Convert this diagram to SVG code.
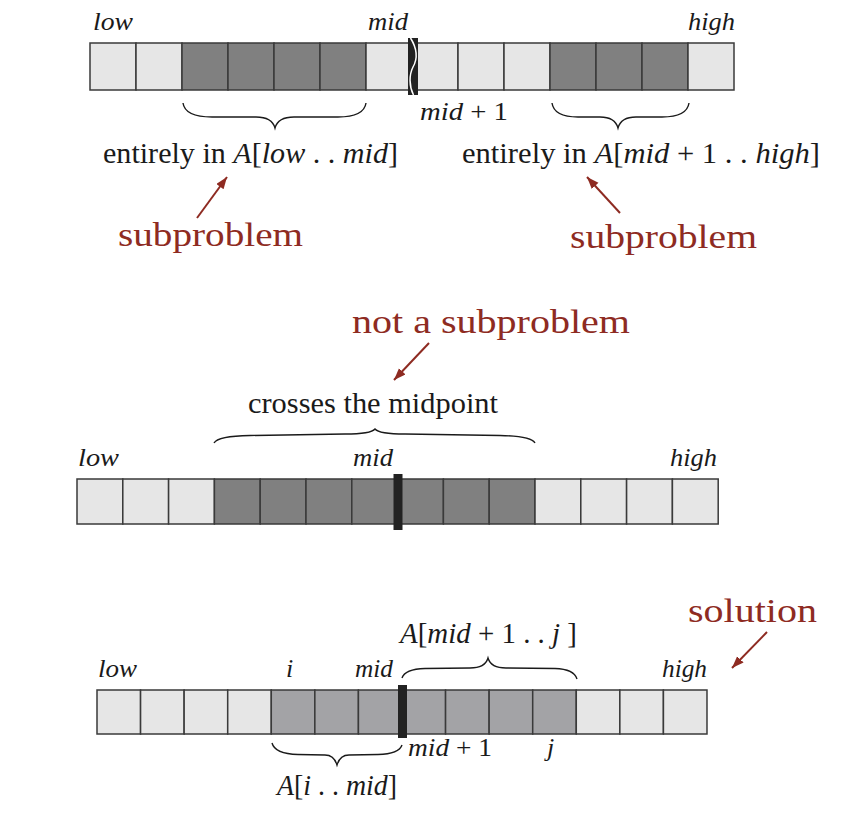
<svg xmlns="http://www.w3.org/2000/svg" width="863" height="816" viewBox="0 0 863 816">
<style>
.c{stroke:#3a3a3a;stroke-width:1.5}
.lt{fill:#e6e6e6}
.dk{fill:#808080}
.md{fill:#a3a3a6}
.t{font-family:"Liberation Serif","Times New Roman",serif;fill:#1a1a1a}
.it{font-style:italic}
.lab{font-size:26px}
.txt{font-size:29px}
.red{font-family:"Liberation Serif","Times New Roman",serif;fill:#8e2b22;font-size:34px}
.brace{fill:none;stroke:#1a1a1a;stroke-width:1.4}
.arr{stroke:#8e2b22;stroke-width:2;fill:none;marker-end:url(#ah)}
.div{fill:#222}
</style>
<defs>
<marker id="ah" markerUnits="userSpaceOnUse" markerWidth="14" markerHeight="10" refX="12" refY="4.5" orient="auto">
<path d="M0,0 L12,4.5 L0,9 z" fill="#8e2b22"/>
</marker>
</defs>

<g id="array1">
<rect class="c lt" x="90" y="43" width="46" height="47"/>
<rect class="c lt" x="136" y="43" width="46" height="47"/>
<rect class="c dk" x="182" y="43" width="46" height="47"/>
<rect class="c dk" x="228" y="43" width="46" height="47"/>
<rect class="c dk" x="274" y="43" width="46" height="47"/>
<rect class="c dk" x="320" y="43" width="46" height="47"/>
<rect class="c lt" x="366" y="43" width="46" height="47"/>
<rect class="c lt" x="412" y="43" width="46" height="47"/>
<rect class="c lt" x="458" y="43" width="46" height="47"/>
<rect class="c lt" x="504" y="43" width="46" height="47"/>
<rect class="c dk" x="550" y="43" width="46" height="47"/>
<rect class="c dk" x="596" y="43" width="46" height="47"/>
<rect class="c dk" x="642" y="43" width="46" height="47"/>
<rect class="c lt" x="688" y="43" width="46" height="47"/>
<rect class="div" x="408" y="38" width="10" height="57"/>
<path d="M410.5,38 C418,50 417,60 413,67 C409,75 409,86 413.5,95" fill="none" stroke="#fff" stroke-width="1.5"/>
<text class="t it lab" x="93" y="30" textLength="40" lengthAdjust="spacingAndGlyphs">low</text>
<text class="t it lab" x="368" y="30" textLength="40" lengthAdjust="spacingAndGlyphs">mid</text>
<text class="t it lab" x="688" y="30" textLength="47" lengthAdjust="spacingAndGlyphs">high</text>
<text class="t lab" x="420" y="120" textLength="88" lengthAdjust="spacingAndGlyphs"><tspan class="it">mid</tspan> + 1</text>
</g>

<g id="left-sub">
<path class="brace" d="M183,103 Q185,117 212,117 L256,117 Q272,117 275,128 Q278,117 294,117 L338,117 Q364,117 366,103"/>
<text class="t txt" x="103" y="163" textLength="295" lengthAdjust="spacingAndGlyphs">entirely in <tspan class="it">A</tspan>[<tspan class="it">low</tspan> . . <tspan class="it">mid</tspan>]</text>
<text class="red" x="118" y="246" textLength="185" lengthAdjust="spacingAndGlyphs">subproblem</text>
</g>

<g id="right-sub">
<path class="brace" d="M552,103 Q554,117 578,117 L600,117 Q615,117 618,128 Q621,117 636,117 L662,117 Q687,117 689,103"/>
<text class="t txt" x="462" y="163" textLength="358" lengthAdjust="spacingAndGlyphs">entirely in <tspan class="it">A</tspan>[<tspan class="it">mid</tspan> + 1 . . <tspan class="it">high</tspan>]</text>
<text class="red" x="570" y="248" textLength="187" lengthAdjust="spacingAndGlyphs">subproblem</text>
</g>

<g id="array2">
<rect class="c lt" x="77" y="479" width="45.8" height="45"/>
<rect class="c lt" x="122.8" y="479" width="45.8" height="45"/>
<rect class="c lt" x="168.6" y="479" width="45.8" height="45"/>
<rect class="c dk" x="214.4" y="479" width="45.8" height="45"/>
<rect class="c dk" x="260.2" y="479" width="45.8" height="45"/>
<rect class="c dk" x="306" y="479" width="45.8" height="45"/>
<rect class="c dk" x="351.8" y="479" width="45.8" height="45"/>
<rect class="c dk" x="397.6" y="479" width="45.8" height="45"/>
<rect class="c dk" x="443.4" y="479" width="45.8" height="45"/>
<rect class="c dk" x="489.2" y="479" width="45.8" height="45"/>
<rect class="c lt" x="535" y="479" width="45.8" height="45"/>
<rect class="c lt" x="580.8" y="479" width="45.8" height="45"/>
<rect class="c lt" x="626.6" y="479" width="45.8" height="45"/>
<rect class="c lt" x="672.4" y="479" width="45.8" height="45"/>
<rect class="div" x="393.5" y="474" width="9" height="56"/>
<text class="t it lab" x="78" y="466" textLength="41" lengthAdjust="spacingAndGlyphs">low</text>
<text class="t it lab" x="353" y="466" textLength="40" lengthAdjust="spacingAndGlyphs">mid</text>
<text class="t it lab" x="670" y="466" textLength="47" lengthAdjust="spacingAndGlyphs">high</text>
</g>

<g id="cross">
<path class="brace" d="M214,443 Q218,436 250,435.5 L345,434 Q371,434 375,429 Q379,434 405,434 L500,435.5 Q531,436 535,443"/>
<text class="t txt" x="248" y="413" textLength="250" lengthAdjust="spacingAndGlyphs">crosses the midpoint</text>
<text class="red" x="352" y="333" textLength="278" lengthAdjust="spacingAndGlyphs">not a subproblem</text>
</g>

<g id="array3">
<rect class="c lt" x="97" y="690" width="43.57" height="44"/>
<rect class="c lt" x="140.57" y="690" width="43.57" height="44"/>
<rect class="c lt" x="184.14" y="690" width="43.57" height="44"/>
<rect class="c lt" x="227.71" y="690" width="43.57" height="44"/>
<rect class="c md" x="271.28" y="690" width="43.57" height="44"/>
<rect class="c md" x="314.85" y="690" width="43.57" height="44"/>
<rect class="c md" x="358.42" y="690" width="43.57" height="44"/>
<rect class="c md" x="402" y="690" width="43.57" height="44"/>
<rect class="c md" x="445.57" y="690" width="43.57" height="44"/>
<rect class="c md" x="489.14" y="690" width="43.57" height="44"/>
<rect class="c md" x="532.71" y="690" width="43.57" height="44"/>
<rect class="c lt" x="576.28" y="690" width="43.57" height="44"/>
<rect class="c lt" x="619.85" y="690" width="43.57" height="44"/>
<rect class="c lt" x="663.42" y="690" width="43.57" height="44"/>
<rect class="div" x="398" y="685" width="9" height="53"/>
<text class="t it lab" x="98" y="677" textLength="39" lengthAdjust="spacingAndGlyphs">low</text>
<text class="t it lab" x="286" y="677">i</text>
<text class="t it lab" x="355" y="677" textLength="38" lengthAdjust="spacingAndGlyphs">mid</text>
<text class="t it lab" x="662" y="677" textLength="45" lengthAdjust="spacingAndGlyphs">high</text>
<text class="t lab" x="408" y="756" textLength="84" lengthAdjust="spacingAndGlyphs"><tspan class="it">mid</tspan> + 1</text>
<text class="t it lab" x="547" y="756">j</text>
</g>

<g id="solution">
<path class="brace" d="M402,678 Q405,669 425,668.5 L470,668 Q485,668 488,658 Q491,668 506,668 L555,668.5 Q574,669 577,679"/>
<path class="brace" d="M272,743 Q275,754 298,754.5 L325,755 Q334,755 337,765 Q340,755 349,755 L378,754.5 Q399,754 402,745"/>
<text class="t txt" x="400" y="643" textLength="177" lengthAdjust="spacingAndGlyphs"><tspan class="it">A</tspan>[<tspan class="it">mid</tspan> + 1 . . <tspan class="it">j</tspan> ]</text>
<text class="t txt" x="277" y="795" textLength="120" lengthAdjust="spacingAndGlyphs"><tspan class="it">A</tspan>[<tspan class="it">i</tspan> . . <tspan class="it">mid</tspan>]</text>
<text class="red" x="688" y="622" textLength="129" lengthAdjust="spacingAndGlyphs">solution</text>
</g>

<g id="connectors">
<line class="arr" x1="197" y1="218" x2="227" y2="177"/>
<line class="arr" x1="620" y1="213" x2="587" y2="177"/>
<line class="arr" x1="429" y1="343" x2="394" y2="380"/>
<line class="arr" x1="767" y1="632" x2="732" y2="668"/>
</g>
</svg>
